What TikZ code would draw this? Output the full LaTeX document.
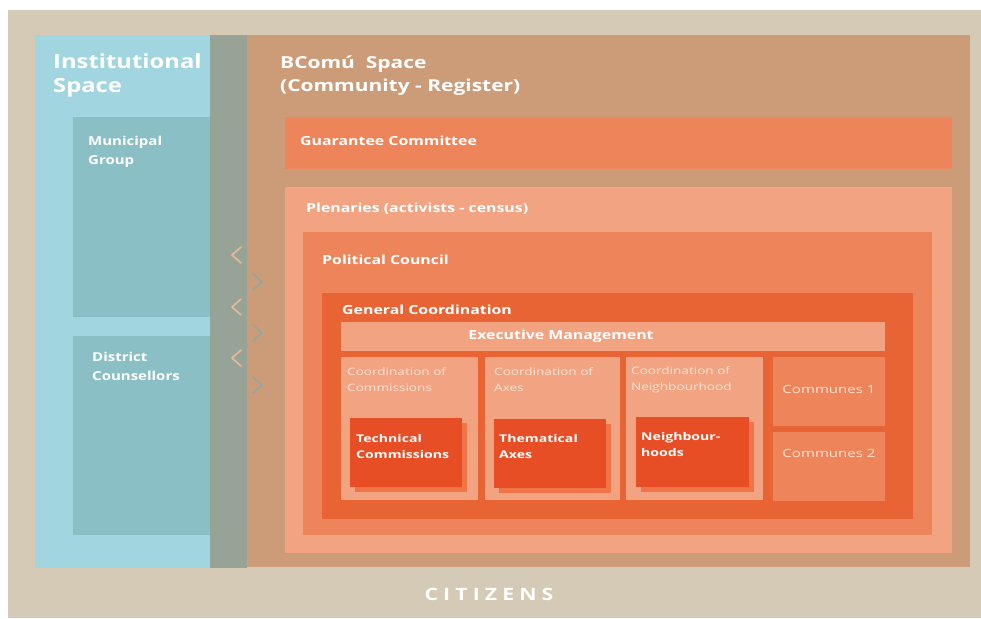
\documentclass[tikz,border=0pt]{standalone}
\usepackage{fontspec}
\setmainfont{Open Sans}
\newfontfamily\wideA{Open Sans}[FakeStretch=1.22]
\newfontfamily\wideB{Open Sans}[FakeStretch=1.27]
\newfontfamily\wideC{Open Sans}[FakeStretch=1.33]
\newfontfamily\citf{Open Sans}[FakeStretch=1.25,LetterSpace=30]
\begin{document}
\begin{tikzpicture}[x=1pt,y=-1pt,
  lbl/.style={text=white,inner sep=0pt,anchor=base west,align=left},
  midlbl/.style={lbl,font=\wideB\bfseries\fontsize{12.5}{16}\selectfont},
  sublbl/.style={lbl,text=txtL,font=\wideC\fontsize{10.2}{16}\selectfont},
  darklbl/.style={lbl,font=\wideC\bfseries\fontsize{10.6}{16}\selectfont},
  chev/.style={line width=1.7pt,line cap=round,line join=round}]
\definecolor{beige}{HTML}{D4CAB5}
\definecolor{instblue}{HTML}{A1D5E0}
\definecolor{muni}{HTML}{8ABFC6}
\definecolor{greyg}{HTML}{97A396}
\definecolor{brownb}{HTML}{CC9C78}
\definecolor{orangeA}{HTML}{EE845A}
\definecolor{orangeL}{HTML}{F2A382}
\definecolor{orangeG}{HTML}{E96434}
\definecolor{orangeD}{HTML}{E84E26}
\definecolor{orangeS}{HTML}{F07448}
\definecolor{txtL}{HTML}{FBE3D6}
\definecolor{chevL}{HTML}{E6B999}
\definecolor{chevR}{HTML}{93A59E}
\useasboundingbox (0,0) rectangle (981,618);
\fill[white] (0,0) rectangle (981,618);
% background
\fill[beige] (8,10) rectangle (981,618);
\fill[instblue] (35,35) rectangle (210,568);
\fill[greyg] (210,35) rectangle (247,568);
\fill[brownb] (247,35) rectangle (970,567);
% institutional
\fill[muni] (73,117) rectangle (210,317);
\fill[muni] (73,336) rectangle (210,535);
\node[lbl,font=\wideA\bfseries\fontsize{19.5}{24}\selectfont] (inst) at (53,92) {Institutional\\Space};
\node[lbl,font=\wideA\bfseries\fontsize{12.3}{19}\selectfont] (mg) at (88,164) {Municipal\\Group};
\node[lbl,font=\wideA\bfseries\fontsize{12.3}{19}\selectfont] (dc) at (92,380) {District\\Counsellors};
% BComu
\node[lbl,font=\wideB\bfseries\fontsize{16.5}{23}\selectfont] (bc) at (280,91) {BComú\ \ Space\\(Community - Register)};
\fill[orangeA] (285,117) rectangle (952,169);
\node[midlbl] (gc) at (300,145) {Guarantee Committee};
\fill[orangeL] (285,187) rectangle (952,553);
\node[midlbl] (pl) at (306,212) {Plenaries (activists - census)};
\fill[orangeA] (303,232) rectangle (932,535);
\node[midlbl] (pc) at (322,264) {Political Council};
\fill[orangeG] (322,293) rectangle (913,519);
\node[midlbl] (gen) at (342,314) {General Coordination};
\fill[orangeL] (341,322) rectangle (885,351);
\node[midlbl,anchor=base] (em) at (561,339) {Executive Management};
% coordination boxes
\fill[orangeL] (341,357) rectangle (478,500);
\fill[orangeL] (485,357) rectangle (620,500);
\fill[orangeL] (626,357) rectangle (763,500);
\fill[orangeA] (773,357) rectangle (885,426);
\fill[orangeA] (773,432) rectangle (885,501);
\node[sublbl] (cc) at (347,391) {Coordination of\\Commissions};
\node[sublbl] (ca) at (494,391) {Coordination of\\Axes};
\node[sublbl] (cn) at (631,390) {Coordination of\\Neighbourhood};
\node[sublbl,anchor=base,font=\wideC\fontsize{11.3}{16}\selectfont] (c1) at (829,393) {Communes 1};
\node[sublbl,anchor=base,font=\wideC\fontsize{11.3}{16}\selectfont] (c2) at (829,457) {Communes 2};
% dark boxes with shadow
\fill[orangeS] (355,423) rectangle (467,492);
\fill[orangeD] (350,418) rectangle (462,487);
\fill[orangeS] (499,424) rectangle (611,493);
\fill[orangeD] (494,419) rectangle (606,488);
\fill[orangeS] (641,422) rectangle (754,492);
\fill[orangeD] (636,417) rectangle (749,487);
\node[darklbl] (tc) at (356,458) {Technical\\Commissions};
\node[darklbl] (ta) at (499,458) {Thematical\\Axes};
\node[darklbl] (nh) at (641,456) {Neighbour-\\hoods};
% chevrons
\foreach \y in {255,307,358}{
  \draw[chev,draw=chevL] (241,\y-8) -- (232,\y) -- (241,\y+8);
}
\foreach \y in {282,333,385}{
  \draw[chev,draw=chevR] (253,\y-8) -- (262,\y) -- (253,\y+8);
}
% citizens
\node[text=white,inner sep=0pt,anchor=base,font=\citf\bfseries\fontsize{17}{18}\selectfont] (cit) at (489,600) {CITIZENS};
\end{tikzpicture}
\end{document}
